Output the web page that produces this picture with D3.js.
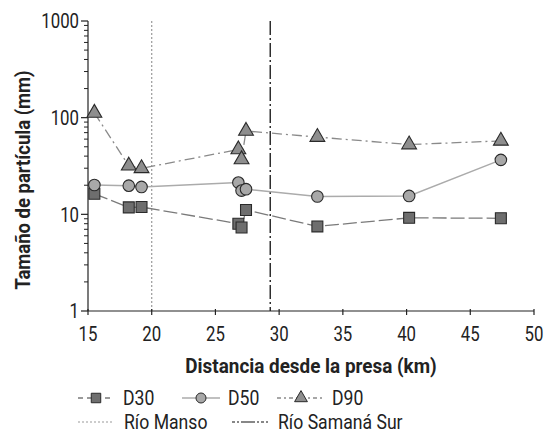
<!DOCTYPE html>
<html><head><meta charset="utf-8">
<script src="https://cdn.jsdelivr.net/npm/d3@7"></script>
<style>body{margin:0;background:#fff}svg{display:block}</style>
</head><body>
<script>
const distances = [15.5, 18.2, 19.2, 26.8, 27.05, 27.4, 33.0, 40.2, 47.4];
const d30 = [16.3, 11.8, 11.9, 8.0, 7.3, 11.1, 7.5, 9.2, 9.1];
const d50 = [20.1, 19.8, 19.2, 21.3, 17.6, 18.2, 15.3, 15.5, 36.6];
const d90 = [112, 31.8, 29.9, 46.9, 37, 72.8, 63, 52.7, 57.5];
const xTicks = [15, 20, 25, 30, 35, 40, 45, 50];
const yTicks = [1, 10, 100, 1000];
const riversX = [20, 29.3];
const riverNames = ["Río Manso", "Río Samaná Sur"];
const seriesNames = ["D30", "D50", "D90"];
const xTitle = "Distancia desde la presa (km)";
const yTitle = "Tamaño de partícula (mm)";

const W = 549, H = 439;
const m = {l: 88, r: 534, t: 21, b: 311};
const FONT = "Roboto, 'Liberation Sans', sans-serif";
const SX = 0.84;
const svg = d3.select("body").append("svg").attr("width", W).attr("height", H)
  .style("font-family", FONT);

function label(parent, tx, ty, str, opts = {}) {
  const rot = opts.rotate ? ` rotate(${opts.rotate})` : "";
  return parent.append("text")
    .attr("transform", `translate(${tx},${ty})${rot} scale(${opts.sx || SX},1)`)
    .attr("dy", "0.35em").attr("text-anchor", opts.anchor || "start")
    .attr("font-size", opts.size || 19).attr("font-weight", opts.bold ? "bold" : "normal")
    .attr("fill", "#222").text(str);
}

const x = d3.scaleLinear().domain([15, 50]).range([m.l, m.r]);
const y = d3.scaleLog().domain([1, 1000]).range([m.b, m.t]);

// river lines
const riverStyle = [
  {stroke: "#999", dash: "2,2", w: 1.2},
  {stroke: "#111", dash: "14,3,2,3", w: 1.3}
];
riversX.forEach((v, i) => {
  svg.append("line").attr("x1", x(v)).attr("x2", x(v)).attr("y1", m.t).attr("y2", m.b)
    .attr("stroke", riverStyle[i].stroke).attr("stroke-width", riverStyle[i].w)
    .attr("stroke-dasharray", riverStyle[i].dash);
});

// axes
const minor = [];
for (let d = 1; d < 1000; d *= 10) for (let k = 2; k <= 9; k++) minor.push(d * k);
const gy = svg.append("g").attr("transform", `translate(${m.l},0)`);
gy.append("line").attr("x1", 0).attr("x2", 0).attr("y1", m.t).attr("y2", m.b).attr("stroke", "#222").attr("stroke-width", 1.2);
gy.selectAll(".mn").data(minor).join("line").attr("x1", -4).attr("x2", 0)
  .attr("y1", d => y(d)).attr("y2", d => y(d)).attr("stroke", "#222").attr("stroke-width", 1);
gy.selectAll(".mj").data(yTicks).join("line").attr("x1", -7).attr("x2", 0)
  .attr("y1", d => y(d)).attr("y2", d => y(d)).attr("stroke", "#222").attr("stroke-width", 1.2);
yTicks.forEach(t => label(svg, m.l - 9, y(t), String(t), {anchor: "end", size: 21, sx: 0.8}));

const gx = svg.append("g").attr("transform", `translate(0,${m.b})`);
gx.append("line").attr("x1", m.l).attr("x2", m.r).attr("y1", 0).attr("y2", 0).attr("stroke", "#222").attr("stroke-width", 1.2);
gx.selectAll(".tk").data(xTicks).join("line").attr("x1", d => x(d)).attr("x2", d => x(d))
  .attr("y1", -2).attr("y2", 4).attr("stroke", "#222").attr("stroke-width", 1.2);
xTicks.forEach(t => label(svg, x(t), m.b + 23, String(t), {anchor: "middle", size: 21, sx: 0.8}));

label(svg, (m.l + m.r) / 2, 366, xTitle, {anchor: "middle", bold: true, size: 21, sx: 0.9});
label(svg, 23, 180, yTitle, {anchor: "middle", bold: true, size: 21, sx: 0.88, rotate: -90});

// series
const series = [
  {name: seriesNames[0], vals: d30, stroke: "#7a7a7a", dash: "14,4", w: 1.3, fill: "#6e6e6e", shape: d3.symbolSquare, size: 120},
  {name: seriesNames[1], vals: d50, stroke: "#ababab", dash: null, w: 1.5, fill: "#a8a8a8", shape: d3.symbolCircle, size: 105},
  {name: seriesNames[2], vals: d90, stroke: "#8a8a8a", dash: "10,4,2,4", w: 1.3, fill: "#8e8e8e", shape: d3.symbolTriangle, size: 95}
];
const line = d3.line().x(d => x(d[0])).y(d => y(d[1]));
series.forEach(s => {
  const pts = distances.map((d, i) => [d, s.vals[i]]);
  svg.append("path").attr("d", line(pts)).attr("fill", "none").attr("stroke", s.stroke)
    .attr("stroke-width", s.w).attr("stroke-dasharray", s.dash);
});
series.forEach(s => {
  const pts = distances.map((d, i) => [d, s.vals[i]]);
  svg.append("g").selectAll("path").data(pts).join("path")
    .attr("d", d3.symbol().type(s.shape).size(s.size))
    .attr("transform", d => `translate(${x(d[0])},${y(d[1])})`)
    .attr("fill", s.fill).attr("stroke", "#2a2a2a").attr("stroke-width", 1.1);
});

// legend
const lg = svg.append("g");
const row1 = 398, row2 = 422;
const legLines = [[78, 113], [182, 220], [277, 323]];
const legMark = [96, 201, 301];
const legText = [123, 228, 332];
const legDash = ["5,4", null, "4,3,2,3"];
series.forEach((s, i) => {
  lg.append("line").attr("x1", legLines[i][0]).attr("x2", legLines[i][1]).attr("y1", row1).attr("y2", row1)
    .attr("stroke", s.stroke).attr("stroke-width", s.w).attr("stroke-dasharray", legDash[i]);
  lg.append("path").attr("d", d3.symbol().type(s.shape).size(s.size * 0.75)())
    .attr("transform", `translate(${legMark[i]},${row1})`).attr("fill", s.fill).attr("stroke", "#2a2a2a").attr("stroke-width", 1);
  label(lg, legText[i], row1, s.name, {size: 21});
});
const rLines = [[78, 113], [232, 270]];
const rText = [124, 278];
const rDash = ["2,2", "3,2,2,2,14,2,2,2"];
riverNames.forEach((n, i) => {
  lg.append("line").attr("x1", rLines[i][0]).attr("x2", rLines[i][1]).attr("y1", row2).attr("y2", row2)
    .attr("stroke", riverStyle[i].stroke).attr("stroke-width", 1.1).attr("stroke-dasharray", rDash[i]);
  label(lg, rText[i], row2, n, {size: 21});
});
</script>
</body></html>
